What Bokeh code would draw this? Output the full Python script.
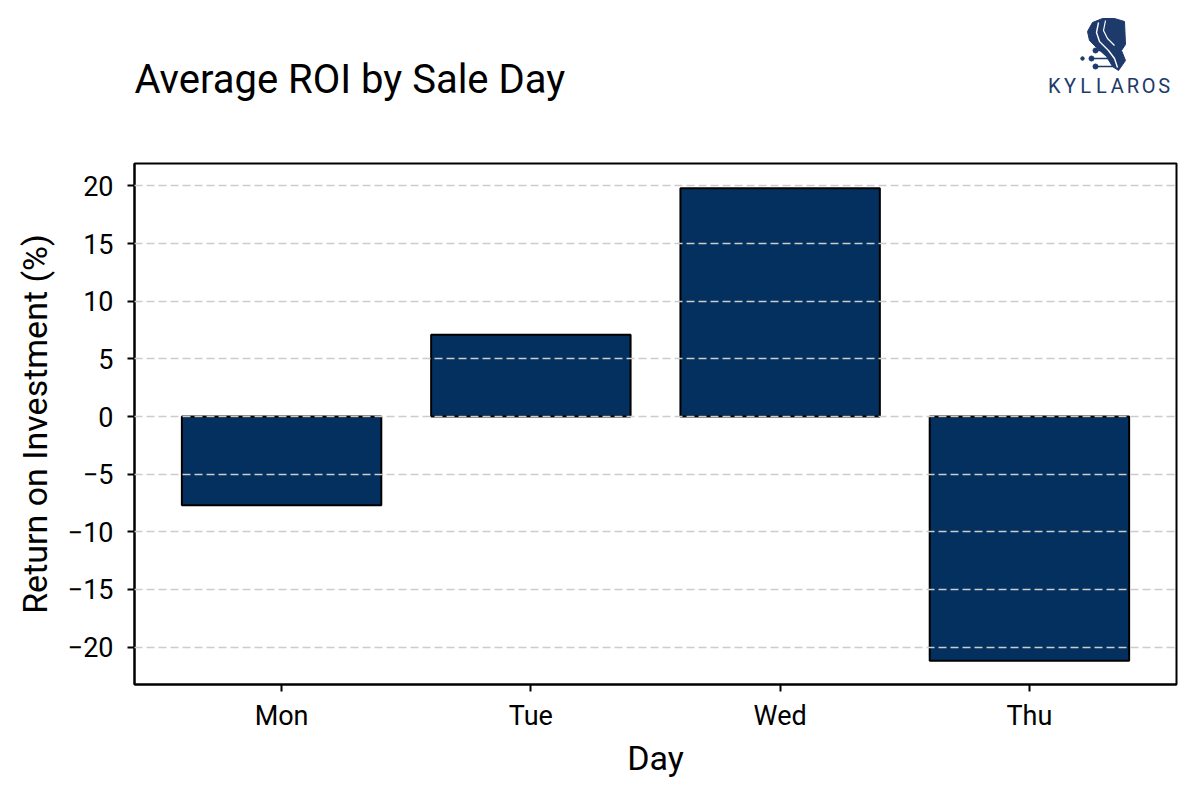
from bokeh.plotting import figure
from bokeh.layouts import column
from bokeh.models import ColumnDataSource, FixedTicker, Range1d
from bokeh.core.properties import value
from bokeh.embed import file_html
from bokeh.resources import INLINE

# ---- data ----
days = ["Mon", "Tue", "Wed", "Thu"]
roi = [-7.7, 7.1, 19.8, -21.2]
y_ticks = [-20, -15, -10, -5, 0, 5, 10, 15, 20]
title_text = "Average ROI by Sale Day"
logo_word = "KYLLAROS"

W, H = 1184, 780
HEAD_H = 140
FONT = "Roboto"
BAR = "#03305f"
LOGO = "#1d3a6b"

# frame placement (canvas px of the whole page)
FL, FT, FR, FB = 134, 163, 1176, 685

# ---------- header (title + logo); its frame is aligned with the chart frame ----------
hd = figure(width=W, height=HEAD_H, output_backend="svg", toolbar_location=None,
            x_range=Range1d(FL, FR), y_range=Range1d(HEAD_H, 0),
            min_border=0, min_border_left=0, min_border_right=0,
            min_border_top=0, min_border_bottom=0)
hd.axis.visible = False
hd.grid.visible = False
hd.outline_line_color = None
hd.background_fill_color = "white"
hd.border_fill_color = "white"

hd.text(x=[134], y=[79], text=[title_text], text_font=value(FONT),
        text_font_size=value("40px"), text_color="black",
        text_align="left", text_baseline="middle")

lx = [1046 + 15.7 * (i + 0.5) for i in range(len(logo_word))]
hd.text(x=lx, y=[85] * len(logo_word), text=list(logo_word), text_font=value(FONT),
        text_font_size=value("20px"), text_color=LOGO,
        text_align="center", text_baseline="middle")

# horse-head icon
head_x = [1092, 1102, 1114, 1124, 1125, 1121, 1125, 1118, 1112, 1106, 1096, 1089, 1087]
head_y = [22, 18, 18, 21, 44, 50, 60, 70, 66, 56, 47, 40, 31]
hd.patch(head_x, head_y, fill_color=LOGO, line_color=LOGO)
hd.line([1098, 1096, 1099, 1108, 1114, 1117], [22, 32, 41, 50, 58, 67],
        line_color="white", line_width=1.4)
hd.line([1105, 1103, 1107, 1114], [20, 30, 38, 45], line_color="white", line_width=1.2)
hd.segment(x0=[1091, 1095, 1095], y0=[58, 50, 66], x1=[1110, 1105, 1113], y1=[58, 50, 66],
           line_color=LOGO, line_width=1.5)
hd.scatter(x=[1082, 1091, 1095, 1095], y=[58, 58, 50, 66], size=[3.5, 5, 5, 5],
           fill_color=LOGO, line_color=LOGO)

# ---------- main chart ----------
x = list(range(len(days)))
src = ColumnDataSource(dict(x=x, top=roi, day=days))

p = figure(width=W, height=H - HEAD_H, output_backend="svg", toolbar_location=None,
           x_range=Range1d(-0.59, 3.59), y_range=Range1d(-23.25, 21.95),
           min_border_left=FL, min_border_right=W - FR, min_border_top=FT - HEAD_H,
           min_border_bottom=H - FB)

p.vbar(x="x", top="top", bottom=0, width=0.8, source=src,
       fill_color=BAR, line_color="black", line_width=2)

p.outline_line_color = "black"
p.outline_line_width = 2
p.background_fill_color = "white"
p.border_fill_color = "white"

p.xgrid.visible = False
p.ygrid.grid_line_color = "#cccccc"
p.ygrid.grid_line_dash = "8 4"
p.ygrid.grid_line_width = 1.3
p.ygrid.level = "overlay"

p.xaxis.ticker = FixedTicker(ticks=x)
p.xaxis.major_label_overrides = {i: d for i, d in zip(x, days)}
p.yaxis.ticker = FixedTicker(ticks=y_ticks)
p.yaxis.major_label_overrides = {t: ("\u2212" + str(-t) if t < 0 else str(t)) for t in y_ticks}

for ax in (p.xaxis[0], p.yaxis[0]):
    ax.axis_line_color = "black"
    ax.axis_line_width = 2
    ax.major_tick_line_color = "black"
    ax.major_tick_line_width = 2
    ax.major_tick_out = 7
    ax.major_tick_in = 0
    ax.minor_tick_line_color = None
    ax.major_label_text_font = FONT
    ax.major_label_text_font_size = "27px"
    ax.major_label_text_color = "black"
    ax.axis_label_text_font = FONT
    ax.axis_label_text_font_size = "34px"
    ax.axis_label_text_font_style = "normal"
    ax.axis_label_text_color = "black"

p.xaxis.axis_label = "Day"
p.yaxis.axis_label = "Return on Investment (%)"
p.xaxis.major_label_standoff = 8
p.yaxis.major_label_standoff = 14
p.xaxis.axis_label_standoff = 3
p.yaxis.axis_label_standoff = 10

layout = column(hd, p, spacing=0)
open("out.html", "w").write(file_html(layout, INLINE))
